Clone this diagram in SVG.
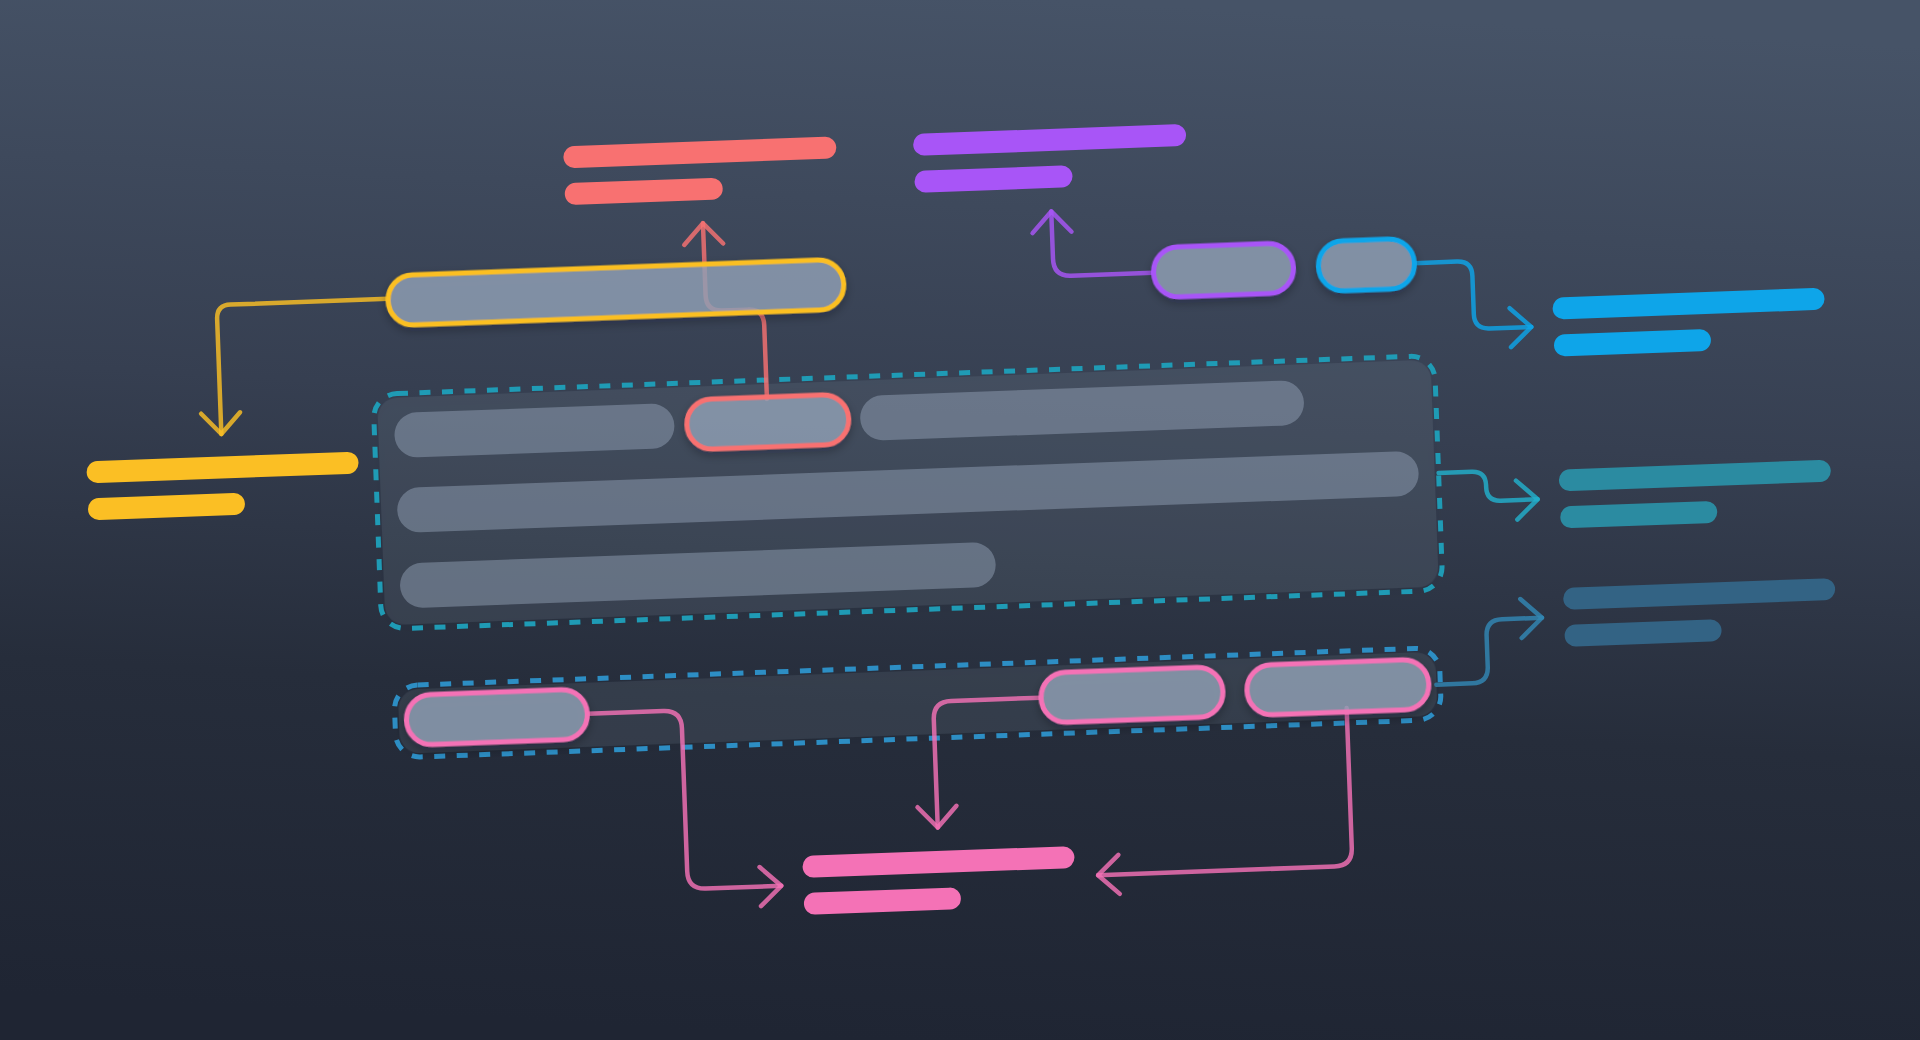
<svg xmlns="http://www.w3.org/2000/svg" width="1920" height="1040" viewBox="0 0 1920 1040">
<defs>
  <linearGradient id="bg" x1="0.55" y1="0" x2="0.45" y2="1">
    <stop offset="0" stop-color="#465367"/>
    <stop offset="0.4" stop-color="#363f51"/>
    <stop offset="0.68" stop-color="#262d3b"/>
    <stop offset="1" stop-color="#1f2533"/>
  </linearGradient>
  <filter id="sh" x="-10%" y="-40%" width="120%" height="180%">
    <feDropShadow dx="0" dy="4" stdDeviation="5" flood-color="#0b0f18" flood-opacity="0.3"/>
  </filter>
  <marker id="a-y" markerUnits="userSpaceOnUse" orient="auto" refX="0" refY="0" markerWidth="1" markerHeight="1" overflow="visible"><path class="ah" stroke="#fbbf24" d="M-21,-19.5 L0,0 L-21,19.5"/></marker>
  <marker id="a-r" markerUnits="userSpaceOnUse" orient="auto" refX="0" refY="0" markerWidth="1" markerHeight="1" overflow="visible"><path class="ah" stroke="#f87171" d="M-21,-19.5 L0,0 L-21,19.5"/></marker>
  <marker id="a-p" markerUnits="userSpaceOnUse" orient="auto" refX="0" refY="0" markerWidth="1" markerHeight="1" overflow="visible"><path class="ah" stroke="#a855f7" d="M-21,-19.5 L0,0 L-21,19.5"/></marker>
  <marker id="a-b" markerUnits="userSpaceOnUse" orient="auto" refX="0" refY="0" markerWidth="1" markerHeight="1" overflow="visible"><path class="ah" stroke="#0ea5e9" d="M-21,-19.5 L0,0 L-21,19.5"/></marker>
  <marker id="a-t" markerUnits="userSpaceOnUse" orient="auto" refX="0" refY="0" markerWidth="1" markerHeight="1" overflow="visible"><path class="ah" stroke="#22b0cc" d="M-21,-19.5 L0,0 L-21,19.5"/></marker>
  <marker id="a-s" markerUnits="userSpaceOnUse" orient="auto" refX="0" refY="0" markerWidth="1" markerHeight="1" overflow="visible"><path class="ah" stroke="#3287b5" d="M-21,-19.5 L0,0 L-21,19.5"/></marker>
  <marker id="a-k" markerUnits="userSpaceOnUse" orient="auto" refX="0" refY="0" markerWidth="1" markerHeight="1" overflow="visible"><path class="ah" stroke="#f472b6" d="M-21,-19.5 L0,0 L-21,19.5"/></marker>
</defs>
<style>
  .ah { fill: none; stroke-width: 4.5; stroke-linecap: round; stroke-linejoin: round; stroke-opacity: 0.82; }
  .conn path { fill: none; stroke-width: 4.5; stroke-linecap: round; stroke-linejoin: round; stroke-opacity: 0.82; }
  .node rect { fill: #94a3b8; fill-opacity: 0.78; stroke-width: 5; filter: url(#sh); }
  .ghost { fill: #94a3b8; fill-opacity: 0.48; }
  .frame { fill: #94a3b8; fill-opacity: 0.12; filter: url(#sh); }
  .dash { fill: none; stroke-width: 5; stroke-dasharray: 11 11.5; }
</style>

<rect x="0" y="0" width="1920" height="1040" fill="url(#bg)"/>

<g transform="rotate(-2.1 960 520)">
  <g id="group-main">
    <rect class="frame" x="382" y="377" width="1054" height="227" rx="20"/>
    <rect class="dash" stroke="#1f9bb5" x="378" y="373" width="1062" height="235" rx="24"/>
    <rect class="ghost" x="398" y="392.5" width="280" height="45" rx="22.5"/>
    <rect class="ghost" x="864" y="392.5" width="444" height="45" rx="22.5"/>
    <rect class="ghost" x="398" y="467.5" width="1022" height="45" rx="22.5"/>
    <rect class="ghost" x="398" y="543" width="596" height="45" rx="22.5"/>
  </g>
  <g id="group-bottom">
    <rect class="frame" x="392" y="669" width="1038" height="64" rx="20"/>
    <rect class="dash" stroke="#2d8ec4" x="388" y="665" width="1046" height="72" rx="24"/>
  </g>

  <g id="out-red" fill="#f87171">
    <rect x="577" y="132" width="273" height="22" rx="11"/>
    <rect x="577" y="169" width="158" height="22" rx="11"/>
  </g>
  <g id="out-purple" fill="#a855f7">
    <rect x="927" y="132.5" width="273" height="22" rx="11"/>
    <rect x="927" y="169.5" width="158" height="22" rx="11"/>
  </g>
  <g id="out-yellow" fill="#fbbf24">
    <rect x="89" y="429.5" width="272" height="22" rx="11"/>
    <rect x="89" y="466.5" width="157" height="22" rx="11"/>
  </g>
  <g id="out-blue" fill="#0ea5e9">
    <rect x="1560" y="319.5" width="272" height="22" rx="11"/>
    <rect x="1560" y="356.5" width="157" height="22" rx="11"/>
  </g>
  <g id="out-teal" fill="#2b8ba1">
    <rect x="1560" y="491.5" width="272" height="22" rx="11"/>
    <rect x="1560" y="528.5" width="157" height="22" rx="11"/>
  </g>
  <g id="out-steel" fill="#336384">
    <rect x="1560" y="610" width="272" height="22" rx="11"/>
    <rect x="1560" y="647" width="157" height="22" rx="11"/>
  </g>
  <g id="out-pink" fill="#f472b6">
    <rect x="790" y="850" width="272" height="22" rx="11"/>
    <rect x="790" y="887" width="157" height="22" rx="11"/>
  </g>

  <g id="connectors" class="conn">
    <path stroke="#fbbf24" marker-end="url(#a-y)" d="M396,278 H239 Q225,278 225,292 V407"/>
    <path stroke="#f87171" marker-end="url(#a-r)" d="M771.5,392 V318 Q771.5,302 755.5,302 H730 Q714,302 714,286 V214"/>
    <path stroke="#a855f7" marker-end="url(#a-p)" d="M1162,280 H1080 Q1062.5,280 1062.5,262.5 V215"/>
    <path stroke="#0ea5e9" marker-end="url(#a-b)" d="M1424,280 H1466 Q1481,280 1481,295 V333 Q1481,348 1496,348 H1538"/>
    <path stroke="#22b0cc" marker-end="url(#a-t)" d="M1440,490.5 H1473 Q1487,490.5 1487,504.5 V506.5 Q1487,520.5 1501,520.5 H1538"/>
    <path stroke="#3287b5" marker-end="url(#a-s)" d="M1430,702 H1466 Q1482,702 1482,686 V655 Q1482,639 1498,639 H1538"/>
    <path stroke="#f472b6" marker-end="url(#a-k)" d="M581,700 H656.5 Q674.5,700 674.5,718 V861 Q674.5,879 692.5,879 H768"/>
    <path stroke="#f472b6" marker-end="url(#a-k)" d="M1034,700.5 H944.5 Q926.5,700.5 926.5,718.5 V826.5"/>
    <path stroke="#f472b6" marker-end="url(#a-k)" d="M1339.5,722 V862 Q1339.5,880 1321.5,880 H1085"/>
  </g>

  <g id="node-yellow" class="node"><rect x="396.5" y="255" width="456" height="50" rx="25" stroke="#fbbf24"/></g>
  <g id="node-red" class="node"><rect x="690.5" y="390" width="162" height="50" rx="25" stroke="#f87171"/></g>
  <g id="node-purple" class="node"><rect x="1162.5" y="255" width="140" height="50" rx="25" stroke="#a855f7"/></g>
  <g id="node-blue" class="node"><rect x="1327.5" y="255" width="96" height="50" rx="25" stroke="#0ea5e9"/></g>
  <g id="node-pink-1" class="node"><rect x="399.5" y="675" width="181" height="50" rx="25" stroke="#f472b6"/></g>
  <g id="node-pink-2" class="node"><rect x="1034.5" y="676" width="182" height="50" rx="25" stroke="#f472b6"/></g>
  <g id="node-pink-3" class="node"><rect x="1240.5" y="676" width="182" height="50" rx="25" stroke="#f472b6"/></g>
</g>
</svg>
